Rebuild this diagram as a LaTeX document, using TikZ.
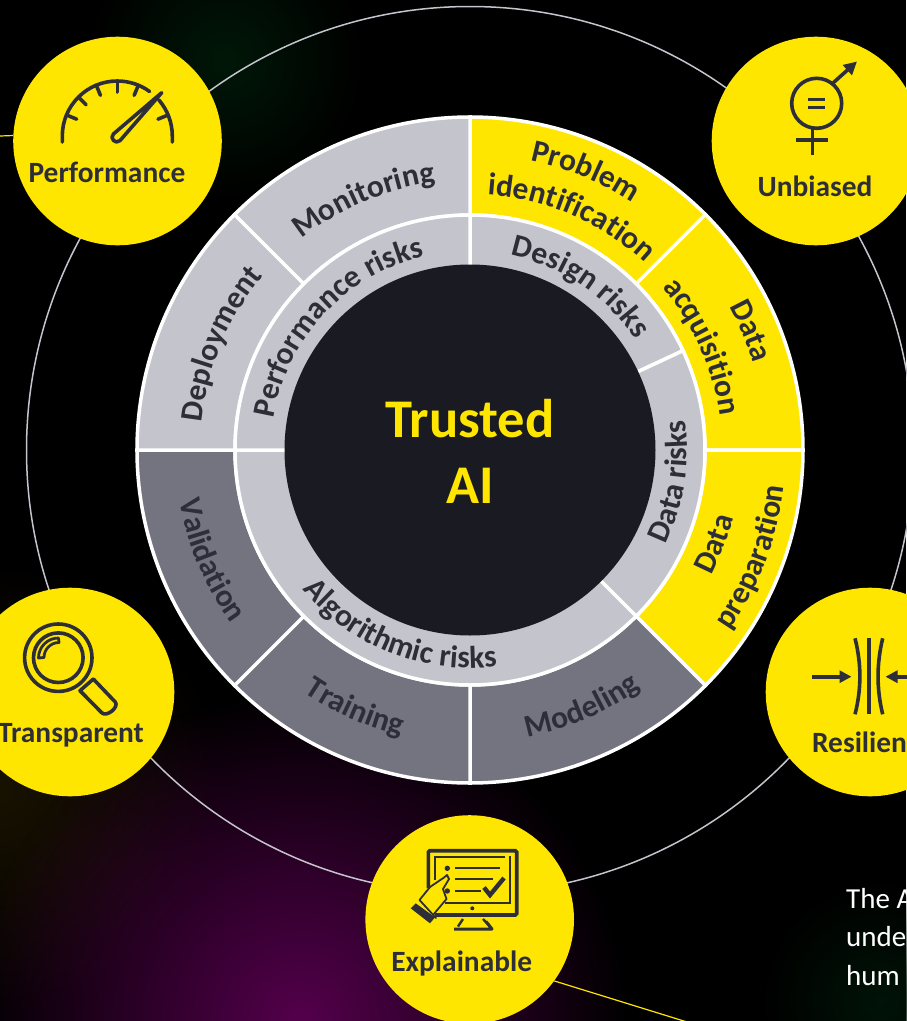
\documentclass[tikz,border=0pt]{standalone}
\usepackage{fontspec}
\setmainfont{Carlito}
\usetikzlibrary{arrows.meta,decorations.text,fadings}
\definecolor{eyyellow}{HTML}{FFE600}
\definecolor{ringink}{HTML}{2E2E38}
\definecolor{coreink}{HTML}{1A1A22}
\definecolor{lightseg}{HTML}{C4C4CD}
\definecolor{darkseg}{HTML}{747480}
\newcommand{\ringfont}{\fontsize{31.5}{31.5}\selectfont\bfseries}
\tikzfading[name=glowfade, inner color=transparent!0, outer color=transparent!100]
\tikzset{
    yellowseg/.style={fill=eyyellow, draw=white, line width=3.5pt},
    lightsegment/.style={fill=lightseg, draw=white, line width=3.5pt},
    darksegment/.style={fill=darkseg, draw=white, line width=3.5pt},
    ringtext/.style={decorate, decoration={text along path, text align=center, text color=ringink, text={|\ringfont|#1}}},
    badge/.style={circle, fill=eyyellow, minimum size=208.6pt, inner sep=0pt},
    badgelabel/.style={anchor=base, inner sep=0pt, text=ringink, font=\fontsize{29.4}{29.4}\selectfont\bfseries},
    corelabel/.style={anchor=base, inner sep=0pt, text=eyyellow, font=\fontsize{54.5}{54.5}\selectfont\bfseries},
    icon/.style={draw=ringink, line width=3.6pt},
    thinicon/.style={draw=ringink, line width=2.4pt},
    glow/.style={path fading=glowfade},
    leader/.style={draw=eyyellow, line width=1.2pt},
    bodytext/.style={anchor=base west, inner sep=0pt, text=white, font=\fontsize{29}{29}\selectfont}
}
\begin{document}
\begin{tikzpicture}[x=1pt, y=-1pt]
    \useasboundingbox (0,0) rectangle (906,1021);
    \fill[black] (0,0) rectangle (906,1021);
    \fill[glow, color={rgb,255:red,24;green,18;blue,0}] (0,790) circle [radius=230];
    \fill[glow, color={rgb,255:red,0;green,24;blue,8}] (225,60) circle [radius=140];
    \fill[glow, color={rgb,255:red,0;green,20;blue,8}] (880,1000) circle [radius=120];
    \fill[glow, color={rgb,255:red,84;green,0;blue,76}] (300,1021) circle [radius=330];

    \begin{scope}[shift={(470,450)}, y=1pt]
    \draw[lightseg, line width=1.5pt] (0,0) circle [radius=443.5];

    \filldraw[yellowseg] (90:235) -- (90:333) arc[start angle=90, end angle=45, radius=333] -- (45:235) arc[start angle=45, end angle=90, radius=235] -- cycle;
    \filldraw[yellowseg] (45:235) -- (45:333) arc[start angle=45, end angle=0, radius=333] -- (0:235) arc[start angle=0, end angle=45, radius=235] -- cycle;
    \filldraw[yellowseg] (0:235) -- (0:333) arc[start angle=0, end angle=-45, radius=333] -- (-45:235) arc[start angle=-45, end angle=0, radius=235] -- cycle;
    \filldraw[darksegment] (-45:235) -- (-45:333) arc[start angle=-45, end angle=-90, radius=333] -- (-90:235) arc[start angle=-90, end angle=-45, radius=235] -- cycle;
    \filldraw[darksegment] (-90:235) -- (-90:333) arc[start angle=-90, end angle=-135, radius=333] -- (-135:235) arc[start angle=-135, end angle=-90, radius=235] -- cycle;
    \filldraw[darksegment] (-135:235) -- (-135:333) arc[start angle=-135, end angle=-180, radius=333] -- (180:235) arc[start angle=-180, end angle=-135, radius=235] -- cycle;
    \filldraw[lightsegment] (180:235) -- (180:333) arc[start angle=180, end angle=135, radius=333] -- (135:235) arc[start angle=135, end angle=180, radius=235] -- cycle;
    \filldraw[lightsegment] (135:235) -- (135:333) arc[start angle=135, end angle=90, radius=333] -- (90:235) arc[start angle=90, end angle=135, radius=235] -- cycle;

    \filldraw[lightsegment] (90:180) -- (90:235) arc[start angle=90, end angle=25, radius=235] -- (25:180) -- cycle;
    \filldraw[lightsegment] (25:180) -- (25:235) arc[start angle=25, end angle=-45, radius=235] -- (-45:180) -- cycle;
    \filldraw[lightsegment] (-45:180) -- (-45:235) arc[start angle=-45, end angle=-180, radius=235] -- (180:180) -- cycle;
    \filldraw[lightsegment] (180:180) -- (180:235) arc[start angle=180, end angle=90, radius=235] -- (90:180) -- cycle;

    \node[circle, fill=coreink, minimum size=371pt, inner sep=0pt] (core) at (0,0) {};
    \node[corelabel] (trusted) at (0,13) {Trusted};
    \node[corelabel] (ai) at (0,-53) {AI};

    \path[ringtext=Problem] (107.5:296) arc[start angle=107.5, end angle=27.5, radius=296];
    \path[ringtext=identification] (116.5:256) arc[start angle=116.5, end angle=16.5, radius=256];
    \path[ringtext=Data] (63:296) arc[start angle=63, end angle=-17, radius=296];
    \path[ringtext=acquisition] (74:252) arc[start angle=74, end angle=-26, radius=252];
    \path[ringtext=Data] (-61:272) arc[start angle=-61, end angle=19, radius=272];
    \path[ringtext=preparation] (-70.7:316) arc[start angle=-70.7, end angle=29.3, radius=316];
    \path[ringtext=Modeling] (-106.5:293) arc[start angle=-106.5, end angle=-26.5, radius=293];
    \path[ringtext=Training] (-154:294) arc[start angle=-154, end angle=-74, radius=294];
    \path[ringtext=Validation] (-197:295) arc[start angle=-197, end angle=-117, radius=295];
    \path[ringtext=Deployment] (197:270) arc[start angle=197, end angle=117, radius=270];
    \path[ringtext=Monitoring] (153:270) arc[start angle=153, end angle=73, radius=270];

    \path[ringtext={Design risks}] (116:199) arc[start angle=116, end angle=-4, radius=199];
    \path[ringtext={Data risks}] (-69:217) arc[start angle=-69, end angle=51, radius=217];
    \path[ringtext={Algorithmic risks}] (188.5:218) arc[start angle=188.5, end angle=308.5, radius=218];
    \path[ringtext={Performance risks}] (197:199) arc[start angle=197, end angle=77, radius=199];
    \end{scope}

    \node[badge] (performance) at (117.5,141) {};
    \node[badge] (unbiased) at (816,141) {};
    \node[badge] (transparent) at (70,692) {};
    \node[badge] (resilient) at (870,692) {};
    \node[badge] (explainable) at (469.7,919.5) {};

    \coordinate (leftend) at (0,136);
    \coordinate (rightend) at (700,1026);
    \draw[leader] (leftend) -- (performance.177);
    \draw[leader] (explainable.-36.7) -- (rightend);

    \node[badgelabel] (performancelabel) at (107,182) {Performance};
    \node[badgelabel] (unbiasedlabel) at (815,196.5) {Unbiased};
    \node[badgelabel] (transparentlabel) at (71,742.5) {Transparent};
    \node[badgelabel] (resilientlabel) at (864.5,752.5) {Resilient};
    \node[badgelabel] (explainablelabel) at (461.7,971.5) {Explainable};

    \node[bodytext] (bodyone) at (846,908) {The A};
    \node[bodytext] (bodytwo) at (846,946.7) {unde};
    \node[bodytext] (bodythree) at (846,985.7) {hum};

    \draw[icon, line cap=round] (62.3,142) -- (62.3,136) arc[start angle=180, end angle=306, radius=55];
    \draw[icon, line cap=round] (172.3,142) -- (172.3,136) arc[start angle=360, end angle=319, radius=55];
    \foreach \a in {-22.5,-67.5,-90,-112.5,-135,-157.5} {
        \draw[icon, line cap=round] (117.3,136) ++(\a:55) -- ++(\a+180:11);
    }
    \draw[icon, line join=round] (161.7,92.7) -- (120,140.6) .. controls (115.7,144.8) and (109.1,138.2) .. (113.4,134) -- cycle;

    \draw[icon] (816.7,103.3) circle [radius=25];
    \draw[icon, -{Triangle[length=13pt, width=13pt]}] (833,83) -- (857,61.5);
    \draw[icon] (812.3,128) -- (812.3,155);
    \draw[icon] (796,140) -- (828,140);
    \draw[icon, line width=3pt] (807.5,99.3) -- (825,99.3);
    \draw[icon, line width=3pt] (807.5,107.7) -- (825,107.7);

    \draw[icon] (58.3,657.7) circle [radius=33.7];
    \draw[icon] (58.3,657.7) circle [radius=24.8];
    \draw[thinicon, line join=round, line width=2.8pt] (38.5,658) arc[start angle=180, end angle=270, radius=20] -- (59,642.5) arc[start angle=270, end angle=180, radius=15] -- cycle;
    \draw[icon, line join=round] (80,690.7) -- (101.7,712.7) .. controls (106.6,717.7) and (119.9,706.7) .. (115,701.7) -- (93.3,679) -- cycle;

    \draw[icon, -{Triangle[length=12pt, width=12pt]}] (812.3,676.7) -- (851.5,676.7);
    \draw[icon, -{Triangle[length=12pt, width=12pt]}] (915,676.7) -- (885.5,676.7);
    \draw[icon] (869,638.3) -- (869,714.3);
    \draw[icon] (855,638.3) .. controls (861.5,664) and (861.5,689) .. (855,714.3);
    \draw[icon] (882.7,638.3) .. controls (876.5,664) and (876.5,689) .. (882.7,714.3);

    \draw[icon, rounded corners=1.5pt] (428.3,888) -- (428.3,850.7) -- (516.7,850.7) -- (516.7,915) -- (435,915);
    \draw[thinicon, line width=1.8pt] (435,880) -- (435,856.7) -- (505,856.7);
    \draw[thinicon, line width=1.8pt] (510,856) -- (510,903.3) -- (445,903.3);
    \fill[ringink] (447.3,868.3) circle [radius=2.7];
    \fill[ringink] (447.3,891) circle [radius=2.7];
    \fill[ringink] (472.3,908.3) circle [radius=2];
    \draw[thinicon, line width=1.8pt] (455,868.3) -- (500,868.3);
    \draw[thinicon, line width=1.8pt] (455,879.3) -- (492.7,879.3);
    \draw[thinicon, line width=1.8pt] (455,891) -- (480.7,891);
    \draw[icon, line width=4.4pt] (484,887.5) -- (490,895) -- (504,878);
    \draw[thinicon, line width=2.4pt] (463,919) -- (458,926.5);
    \draw[thinicon, line width=2.4pt] (483,919) -- (490,926.5);
    \draw[icon, line width=3pt, line join=round] (454,929) -- (492,929) -- (486,921.5);
    \draw[thinicon, fill=eyyellow, line join=round, line width=1.8pt] (419.5,900) -- (430,887) -- (444,877.5) -- (447,875) -- (449,879) -- (443,889) -- (446.5,899) -- (433,915) -- (436,918) -- cycle;
    \fill[ringink] (415.7,903.3) -- (410.7,908.3) -- (430,923.3) -- (435,917.3) -- cycle;
\end{tikzpicture}
\end{document}
